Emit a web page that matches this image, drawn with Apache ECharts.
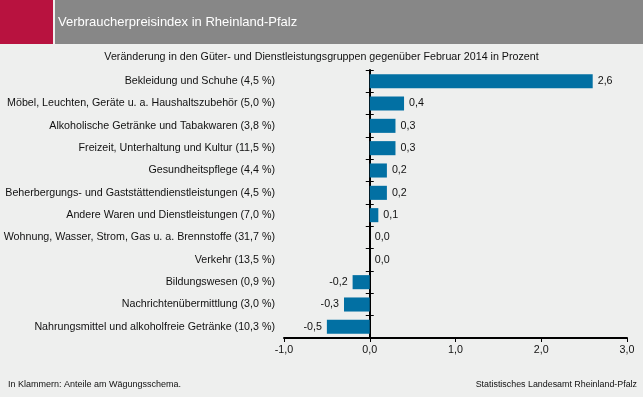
<!DOCTYPE html>
<html>
<head>
<meta charset="utf-8">
<script src="https://cdn.jsdelivr.net/npm/echarts@6/dist/echarts.min.js"></script>
<style>
  html, body { margin: 0; padding: 0; background: #eeefee; }
  #chart { width: 643px; height: 397px; }
</style>
</head>
<body>
<div id="chart"></div>
<script>
var categories = [
  'Bekleidung und Schuhe (4,5 %)',
  'Möbel, Leuchten, Geräte u. a. Haushaltszubehör (5,0 %)',
  'Alkoholische Getränke und Tabakwaren (3,8 %)',
  'Freizeit, Unterhaltung und Kultur (11,5 %)',
  'Gesundheitspflege (4,4 %)',
  'Beherbergungs- und Gaststättendienstleistungen (4,5 %)',
  'Andere Waren und Dienstleistungen (7,0 %)',
  'Wohnung, Wasser, Strom, Gas u. a. Brennstoffe (31,7 %)',
  'Verkehr (13,5 %)',
  'Bildungswesen (0,9 %)',
  'Nachrichtenübermittlung (3,0 %)',
  'Nahrungsmittel und alkoholfreie Getränke (10,3 %)'
];
var changes = [2.6, 0.4, 0.3, 0.3, 0.2, 0.2, 0.1, 0.0, 0.0, -0.2, -0.3, -0.5];
var xTicks = [-1, 0, 1, 2, 3];

var FONT = '"Liberation Sans", Arial, sans-serif';
function fmt(v) { return Number(v).toFixed(1).replace('.', ','); }

var chart = echarts.init(document.getElementById('chart'));

var option = {
  backgroundColor: '#eeefee',
  animation: false,
  textStyle: { fontFamily: FONT },
  graphic: [
    // header band
    { type: 'rect', left: 0, top: 0, shape: { width: 53, height: 44 }, style: { fill: '#b8123f' } },
    { type: 'rect', left: 55, top: 0, shape: { width: 588, height: 44 }, style: { fill: '#878787' } },
    { type: 'text', left: 58, top: 16, style: { text: 'Verbraucherpreisindex in Rheinland-Pfalz', fill: '#ffffff', font: '13px ' + FONT } },
    { type: 'text', left: 'center', top: 52, style: { text: 'Veränderung in den Güter- und Dienstleistungsgruppen gegenüber Februar 2014 in Prozent', fill: '#111', font: '10.7px ' + FONT } },
    // footer
    { type: 'text', left: 8, top: 380, style: { text: 'In Klammern: Anteile am Wägungsschema.', fill: '#111', font: '9px ' + FONT } },
    { type: 'text', right: 6, top: 380, style: { text: 'Statistisches Landesamt Rheinland-Pfalz', fill: '#111', font: '8.9px ' + FONT } }
  ],
  grid: { left: 284, right: 16, top: 70, bottom: 59, outerBoundsMode: 'none', containLabel: false },
  xAxis: {
    type: 'value',
    min: xTicks[0],
    max: xTicks[xTicks.length - 1],
    interval: 1,
    splitLine: { show: false },
    axisLine: { show: true, lineStyle: { color: '#000', width: 2 } },
    axisTick: { show: true, length: 4, lineStyle: { color: '#000', width: 1 } },
    axisLabel: { color: '#111', fontSize: 10.7, margin: 7, formatter: fmt }
  },
  yAxis: [
    // labels only, at the left edge of the grid
    {
      type: 'category',
      inverse: true,
      data: categories,
      axisLine: { show: false, onZero: false },
      axisTick: { show: false },
      axisLabel: { color: '#111', fontSize: 10.7, margin: 9 }
    },
    // axis line at zero with ticks on the left side
    {
      type: 'category',
      inverse: true,
      position: 'left',
      data: categories,
      axisLine: { show: true, onZero: true, onZeroAxisIndex: 0, lineStyle: { color: '#000', width: 2 } },
      axisTick: { show: true, length: 4, lineStyle: { color: '#000', width: 1 } },
      axisLabel: { show: false }
    },
    // ticks on the right side of the zero line
    {
      type: 'category',
      inverse: true,
      position: 'left',
      data: categories,
      axisLine: { show: false, onZero: true, onZeroAxisIndex: 0 },
      axisTick: { show: true, inside: true, length: 4, lineStyle: { color: '#000', width: 1 } },
      axisLabel: { show: false }
    }
  ],
  series: [{
    type: 'bar',
    yAxisIndex: 0,
    barCategoryGap: '37%',
    itemStyle: { color: '#0270a3' },
    label: {
      show: true,
      distance: 5,
      color: '#111',
      fontSize: 10.7,
      formatter: function (p) { return fmt(p.value); }
    },
    data: changes.map(function (v) {
      return { value: v, label: { position: v < 0 ? 'left' : 'right' } };
    })
  }]
};

chart.setOption(option);
</script>
</body>
</html>
